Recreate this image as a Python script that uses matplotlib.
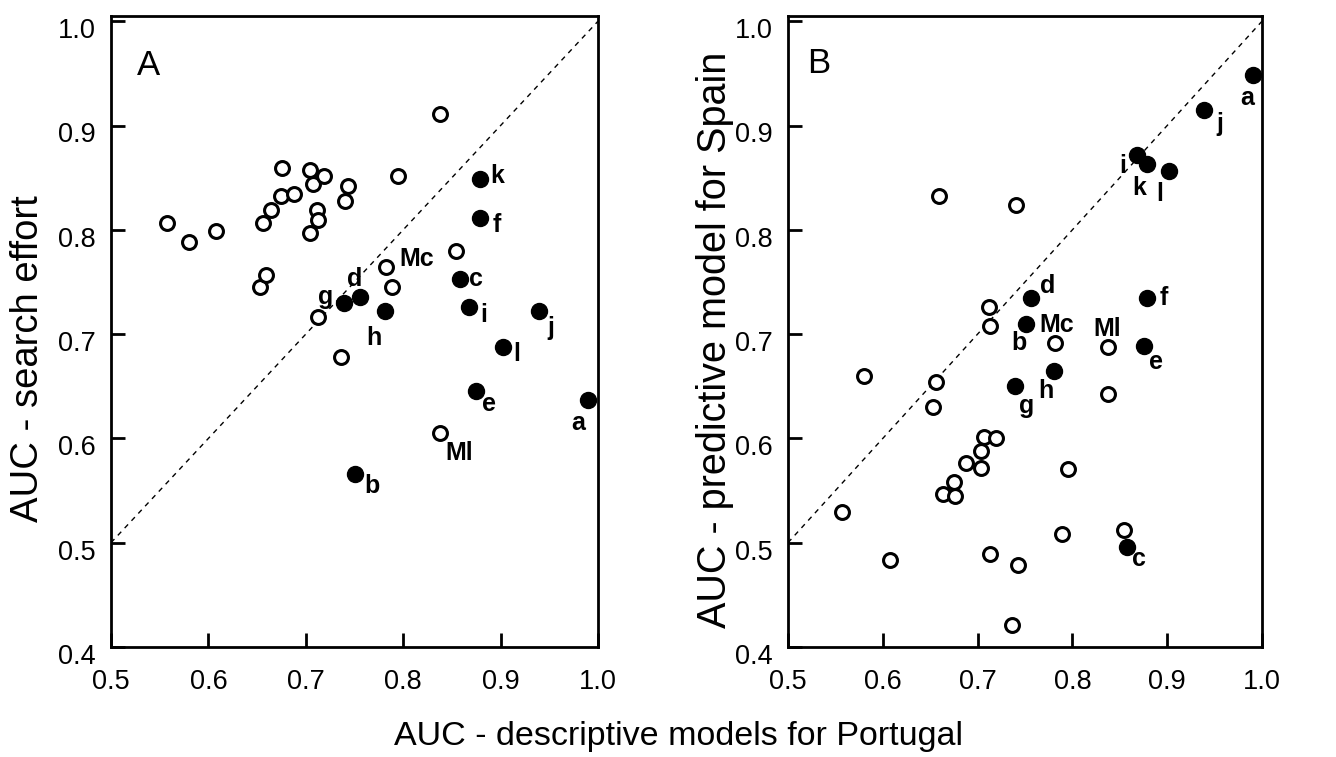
import matplotlib
matplotlib.use('Agg')
import matplotlib.pyplot as plt
from matplotlib.transforms import ScaledTranslation

plt.rcParams['font.family'] = ['Liberation Sans', 'DejaVu Sans']

# unlabelled species: AUC descriptive (Portugal), search effort, predictive (Spain)
open_x = [0.557, 0.580, 0.608, 0.653, 0.656, 0.659, 0.664, 0.675, 0.676, 0.688, 0.704, 0.704,
          0.707, 0.712, 0.713, 0.713, 0.719, 0.736, 0.740, 0.743, 0.789, 0.795, 0.838, 0.854]
open_yA = [0.807, 0.788, 0.799, 0.745, 0.807, 0.757, 0.819, 0.832, 0.859, 0.834, 0.857, 0.797,
           0.844, 0.819, 0.809, 0.716, 0.852, 0.678, 0.828, 0.842, 0.745, 0.852, 0.911, 0.780]
open_yB = [0.529, 0.660, 0.483, 0.630, 0.654, 0.832, 0.547, 0.558, 0.545, 0.576, 0.588, 0.572,
           0.601, 0.726, 0.708, 0.489, 0.600, 0.421, 0.824, 0.479, 0.508, 0.571, 0.643, 0.512]

# labelled species
lab_names = ['a', 'b', 'c', 'd', 'e', 'f', 'g', 'h', 'i', 'j', 'k', 'l', 'Mc', 'Ml']
lab_filled = [True] * 12 + [False, False]
lab_x = [0.990, 0.751, 0.858, 0.756, 0.875, 0.879, 0.739, 0.781, 0.868, 0.939, 0.879, 0.902, 0.782, 0.838]
lab_yA = [0.637, 0.566, 0.753, 0.736, 0.645, 0.811, 0.730, 0.722, 0.726, 0.722, 0.849, 0.688, 0.764, 0.605]
lab_yB = [0.948, 0.710, 0.496, 0.735, 0.689, 0.735, 0.650, 0.665, 0.872, 0.915, 0.863, 0.856, 0.691, 0.688]

# label offsets (points)
offA = {'a': (-7, -17), 'b': (12, -9), 'c': (12, 0), 'd': (-4, 13), 'e': (9, -9), 'f': (12, -5),
        'g': (-13, 4), 'h': (-8, -19), 'i': (10, -6), 'j': (9, -12), 'k': (12, 2), 'l': (10, -5),
        'Mc': (22, 6), 'Ml': (14, -14)}
offB = {'a': (-4, -16), 'b': (-5, -14), 'c': (8, -9), 'd': (12, 8), 'e': (9, -12), 'f': (12, 0),
        'g': (9, -14), 'h': (-6, -15), 'i': (-10, -8), 'j': (11, -10), 'k': (-6, -17), 'l': (-7, -16),
        'Mc': (1, 13), 'Ml': (-1, 13)}

ticks = [0.5, 0.6, 0.7, 0.8, 0.9, 1.0]
yticks = [0.4, 0.5, 0.6, 0.7, 0.8, 0.9, 1.0]

fig = plt.figure(figsize=(13.36, 7.57), dpi=100)
axA = fig.add_axes([111 / 1336, 1 - 647 / 757, 487 / 1336, 631 / 757])
axB = fig.add_axes([788 / 1336, 1 - 647 / 757, 474 / 1336, 631 / 757])


def draw(ax, open_y, lab_y, offs, letter, letter_pos):
    ax.plot([0.5, 1.0], [0.5, 1.0], color='black', lw=1.0, dashes=(3.6, 3.6), zorder=1)
    ax.plot(open_x, open_y, 'o', ms=10, mfc='white', mec='black', mew=2.2, ls='none', zorder=3)
    for name, filled, x, y in zip(lab_names, lab_filled, lab_x, lab_y):
        if filled:
            ax.plot(x, y, 'o', ms=11.5, mfc='black', mec='black', zorder=3)
        else:
            ax.plot(x, y, 'o', ms=10, mfc='white', mec='black', mew=2.2, zorder=3)
        ax.annotate(name, (x, y), xytext=offs[name], textcoords='offset points',
                    ha='center', va='center', fontsize=18, fontweight='bold', zorder=4)
    ax.set_xlim(0.5, 1.0)
    ax.set_ylim(0.4, 1.005)
    ax.set_xticks(ticks)
    ax.set_xticklabels(['%.1f' % t for t in ticks])
    ax.set_yticks(yticks)
    ax.set_yticklabels(['%.1f' % t for t in yticks])
    ax.tick_params(direction='in', length=10, width=2, labelsize=19.5)
    ax.tick_params(axis='x', pad=16)
    ax.tick_params(axis='y', pad=11)
    shift = ScaledTranslation(0, -5 / 72, fig.dpi_scale_trans)
    for lbl in ax.get_yticklabels():
        lbl.set_transform(lbl.get_transform() + shift)
    for s in ax.spines.values():
        s.set_linewidth(2)
    ax.text(letter_pos[0], letter_pos[1], letter, transform=ax.transAxes,
            fontsize=25, ha='center', va='center')


draw(axA, open_yA, lab_yA, offA, 'A', (0.078, 0.921))
draw(axB, open_yB, lab_yB, offB, 'B', (0.064, 0.925))

fig.text(28 / 1336, 1 - 359 / 757, 'AUC - search effort', rotation=90,
         ha='center', va='center', fontsize=27.5)
fig.text(715 / 1336, 1 - 340 / 757, 'AUC - predictive model for Spain', rotation=90,
         ha='center', va='center', fontsize=28.5)
fig.text(678 / 1336, 1 - 737 / 757, 'AUC - descriptive models for Portugal',
         ha='center', va='center', fontsize=24.5)

fig.savefig('out.png', dpi=100)
